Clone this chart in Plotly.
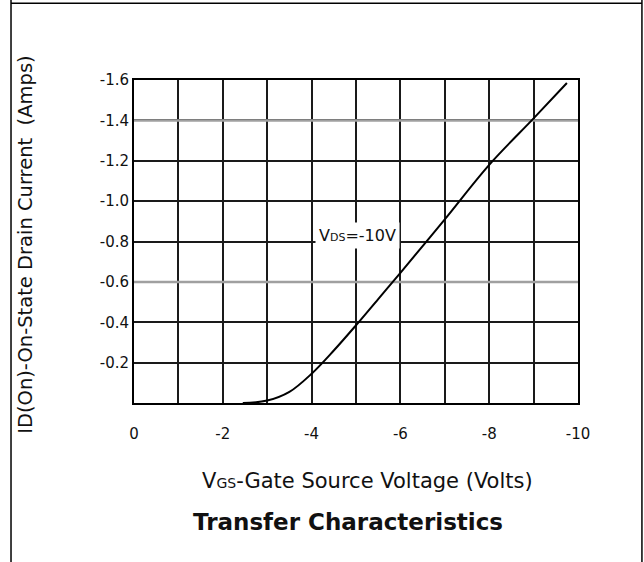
import plotly.graph_objects as go

# ---- data ----
vgs = [-2.45, -3.0, -3.5, -4.0, -4.5, -5.0, -5.5, -6.0, -7.0, -8.0, -9.0, -9.75]
i_d = [0.0, -0.012, -0.055, -0.145, -0.26, -0.385, -0.515, -0.645, -0.91, -1.18, -1.41, -1.585]

x_ticks = [0, -1, -2, -3, -4, -5, -6, -7, -8, -9, -10]
x_labels = ["0", "", "-2", "", "-4", "", "-6", "", "-8", "", "-10"]
y_ticks = [-0.2, -0.4, -0.6, -0.8, -1.0, -1.2, -1.4, -1.6]
y_labels = ["-0.2", "-0.4", "-0.6", "-0.8", "-1.0", "-1.2", "-1.4", "-1.6"]
gray_lines = [-1.4, -0.6]

FONT = "DejaVu Sans"
INK = "#111111"

fig = go.Figure()
fig.add_trace(go.Scatter(
    x=vgs, y=i_d, mode="lines",
    line=dict(color="black", width=2, shape="spline", smoothing=1.0),
    hoverinfo="skip", showlegend=False,
))

axis_common = dict(
    showline=True, linecolor="black", linewidth=2, mirror=True,
    showgrid=True, gridcolor="#1a1a1a", gridwidth=2,
    zeroline=False, ticks="", fixedrange=True,
    tickfont=dict(family=FONT, size=15, color=INK),
)

fig.update_xaxes(range=[0, -10], tickmode="array", tickvals=x_ticks,
                 ticktext=x_labels, ticklabelstandoff=16, **axis_common)
fig.update_yaxes(range=[0, -1.6], tickmode="array", tickvals=y_ticks,
                 ticktext=y_labels, ticklabelstandoff=0, **axis_common)

shapes = []
for gy in gray_lines:
    shapes.append(dict(type="line", xref="x", yref="y", x0=0, x1=-10, y0=gy, y1=gy,
                       line=dict(color="#a0a0a0", width=2.5), layer="between"))
# outer frame of the datasheet cell
shapes.append(dict(type="line", xref="paper", yref="paper", x0=-0.277, x1=1.144,
                   y0=1.238, y1=1.238, line=dict(color="black", width=1.5)))
shapes.append(dict(type="line", xref="paper", yref="paper", x0=-0.277, x1=-0.277,
                   y0=1.25, y1=-0.5, line=dict(color="black", width=1.5)))
shapes.append(dict(type="line", xref="paper", yref="paper", x0=1.144, x1=1.144,
                   y0=1.25, y1=-0.5, line=dict(color="black", width=1.5)))

annotations = [
    dict(x=-5.04, y=-0.83, xref="x", yref="y", showarrow=False,
         xanchor="center", yanchor="middle",
         text="V<span style='font-size:11px'>DS</span>=-10V",
         font=dict(family=FONT, size=16, color=INK),
         bgcolor="white", borderpad=3),
    dict(x=0.526, y=-0.2415, xref="paper", yref="paper", showarrow=False,
         xanchor="center", yanchor="middle",
         text="V<span style='font-size:14px'>GS</span>-Gate Source Voltage (Volts)",
         font=dict(family=FONT, size=21, color=INK)),
    dict(x=0.482, y=-0.368, xref="paper", yref="paper", showarrow=False,
         xanchor="center", yanchor="middle",
         text="<b>Transfer Characteristics</b>",
         font=dict(family=FONT, size=23, color=INK)),
    dict(x=-0.243, y=0.49, xref="paper", yref="paper", showarrow=False,
         xanchor="center", yanchor="middle", textangle=-90,
         text="ID(On)-On-State Drain Current\u00a0\u00a0(Amps)",
         font=dict(family=FONT, size=19.5, color=INK)),
]

fig.update_layout(
    width=644, height=562,
    margin=dict(l=134, r=66, t=80, b=159),
    paper_bgcolor="white", plot_bgcolor="white",
    shapes=shapes, annotations=annotations,
    showlegend=False,
)

# remove the browser's default 8px body margin so the figure fills the window
fig.write_html("out.html",
               config={"displayModeBar": False, "staticPlot": True},
               post_script="document.body.style.margin='0';document.body.style.overflow='hidden';")
